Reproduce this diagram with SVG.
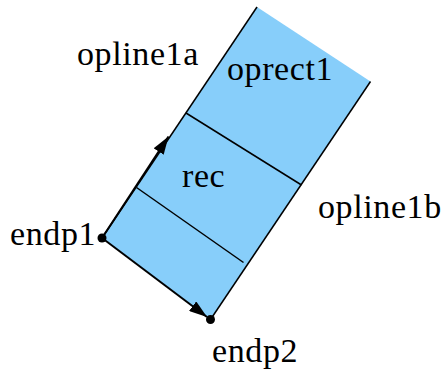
<svg xmlns="http://www.w3.org/2000/svg" width="446" height="379" viewBox="0 0 446 379">
<style>
  .lbl { font-family: "Liberation Serif", "Times New Roman", serif; font-size: 34px; letter-spacing: 0.6px; fill: #000; }
  .edge { stroke: #000; stroke-width: 1.5; fill: none; }
</style>
<defs>
  <marker id="ah2" viewBox="0 0 18 12" refX="18" refY="6" markerWidth="18" markerHeight="12" markerUnits="userSpaceOnUse" orient="auto">
    <path d="M0,0 L18,6 L0,12 Z" fill="#000"/>
  </marker>
</defs>
<g id="oprect1">
  <polygon points="102,238 210.5,319.5 370.5,81.5 257,7" fill="#87CEFA" stroke="none"/>
  <line class="edge" x1="102" y1="238" x2="257" y2="7"/>
  <line class="edge" x1="210.5" y1="319.5" x2="370.5" y2="81.5"/>
  <text class="lbl" x="227" y="80">oprect1</text>
</g>
<g id="rec">
  <text class="lbl" x="182" y="187">rec</text>
</g>
<g id="connectors">
  <line class="edge" x1="186" y1="113" x2="301.5" y2="185"/>
  <line class="edge" x1="136.5" y1="187.5" x2="243.5" y2="262.5"/>
  <line x1="102" y1="238" x2="168.5" y2="136.5" stroke="#000" stroke-width="2" marker-end="url(#ah2)"/>
  <line x1="102" y1="238" x2="207" y2="317" stroke="#000" stroke-width="2" marker-end="url(#ah2)"/>
</g>
<g id="opline1a">
  <text class="lbl" x="77" y="65">opline1a</text>
</g>
<g id="opline1b">
  <text class="lbl" x="318" y="218">opline1b</text>
</g>
<g id="endp1">
  <circle cx="102" cy="238" r="4.5" fill="#000"/>
  <text class="lbl" x="10" y="245">endp1</text>
</g>
<g id="endp2">
  <circle cx="210.5" cy="319.5" r="4.5" fill="#000"/>
  <text class="lbl" x="212" y="362">endp2</text>
</g>
</svg>
